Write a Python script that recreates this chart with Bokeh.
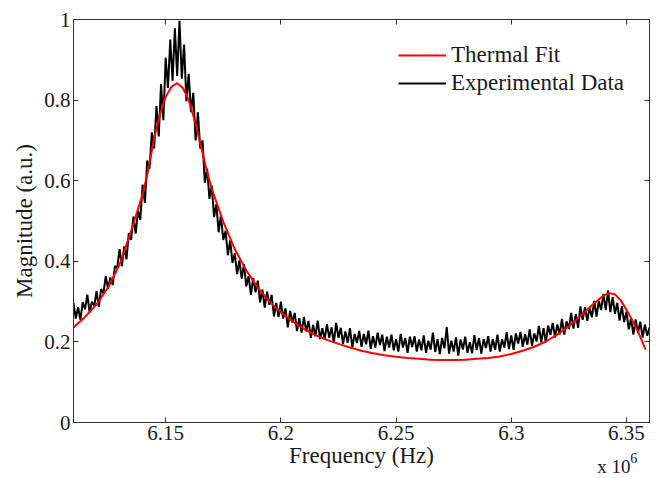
import numpy as np
from bokeh.plotting import figure
from bokeh.layouts import column
from bokeh.models import Range1d, LinearAxis, FixedTicker, Legend, LegendItem, Label
from bokeh.embed import file_html
from bokeh.resources import INLINE

# ---------------- data ----------------
# Experimental sweep: 251 samples, 6.110 MHz .. 6.360 MHz (1 kHz step)
freq_start_hz = 6.110e6
freq_stop_hz = 6.360e6
exp_magnitude = [
    0.296, 0.258, 0.286, 0.255, 0.298, 0.281, 0.317, 0.273, 0.300, 0.289,
    0.326, 0.287, 0.331, 0.321, 0.363, 0.332, 0.360, 0.341, 0.388, 0.385,
    0.430, 0.388, 0.437, 0.405, 0.470, 0.453, 0.511, 0.469, 0.526, 0.503,
    0.590, 0.545, 0.650, 0.630, 0.720, 0.680, 0.785, 0.710, 0.840, 0.750,
    0.905, 0.830, 0.950, 0.848, 0.978, 0.860, 0.997, 0.853, 0.938, 0.797,
    0.865, 0.770, 0.818, 0.700, 0.770, 0.680, 0.700, 0.595, 0.630, 0.555,
    0.588, 0.510, 0.542, 0.472, 0.513, 0.453, 0.476, 0.415, 0.452, 0.396,
    0.420, 0.368, 0.402, 0.357, 0.393, 0.338, 0.363, 0.317, 0.359, 0.323,
    0.352, 0.298, 0.330, 0.285, 0.325, 0.292, 0.317, 0.263, 0.297, 0.262,
    0.300, 0.258, 0.283, 0.236, 0.277, 0.248, 0.272, 0.227, 0.259, 0.223,
    0.262, 0.226, 0.252, 0.210, 0.242, 0.214, 0.253, 0.207, 0.234, 0.207,
    0.244, 0.210, 0.236, 0.198, 0.247, 0.210, 0.235, 0.195, 0.226, 0.198,
    0.234, 0.186, 0.220, 0.197, 0.227, 0.188, 0.220, 0.194, 0.228, 0.183,
    0.214, 0.186, 0.223, 0.192, 0.218, 0.177, 0.213, 0.186, 0.218, 0.179,
    0.207, 0.176, 0.220, 0.186, 0.210, 0.173, 0.213, 0.187, 0.214, 0.176,
    0.206, 0.179, 0.216, 0.173, 0.203, 0.181, 0.223, 0.175, 0.207, 0.170,
    0.210, 0.184, 0.237, 0.171, 0.203, 0.176, 0.211, 0.166, 0.206, 0.181,
    0.213, 0.173, 0.199, 0.172, 0.217, 0.180, 0.210, 0.171, 0.207, 0.185,
    0.214, 0.176, 0.207, 0.180, 0.218, 0.176, 0.207, 0.186, 0.224, 0.182,
    0.216, 0.180, 0.221, 0.196, 0.225, 0.188, 0.219, 0.193, 0.231, 0.190,
    0.221, 0.201, 0.240, 0.199, 0.234, 0.199, 0.241, 0.217, 0.247, 0.211,
    0.243, 0.218, 0.257, 0.218, 0.251, 0.232, 0.272, 0.233, 0.269, 0.235,
    0.288, 0.255, 0.286, 0.252, 0.285, 0.261, 0.302, 0.263, 0.302, 0.279,
    0.319, 0.279, 0.328, 0.274, 0.311, 0.270, 0.297, 0.253, 0.289, 0.249,
    0.275, 0.231, 0.258, 0.218, 0.256, 0.222, 0.250, 0.211, 0.243, 0.215,
    0.236,
]

# Thermal fit (smooth curve), frequency in MHz
fit_freq_mhz = [
    6.110, 6.115, 6.120, 6.125, 6.130, 6.135, 6.140, 6.1425, 6.145, 6.1475,
    6.150, 6.1525, 6.155, 6.1575, 6.160, 6.1625, 6.165, 6.1675, 6.170, 6.175,
    6.180, 6.185, 6.190, 6.195, 6.200, 6.205, 6.210, 6.215, 6.220, 6.225,
    6.230, 6.235, 6.240, 6.245, 6.250, 6.255, 6.260, 6.265, 6.270, 6.275,
    6.280, 6.285, 6.290, 6.295, 6.300, 6.305, 6.310, 6.315, 6.320, 6.325,
    6.330, 6.335, 6.340, 6.3425, 6.345, 6.3475, 6.350, 6.3525, 6.355, 6.3583,
]
fit_magnitude = [
    0.236, 0.262, 0.293, 0.335, 0.392, 0.475, 0.566, 0.628, 0.705, 0.765,
    0.808, 0.833, 0.842, 0.830, 0.800, 0.752, 0.693, 0.633, 0.580, 0.498,
    0.430, 0.377, 0.334, 0.300, 0.273, 0.251, 0.232, 0.217, 0.205, 0.195,
    0.186, 0.178, 0.172, 0.167, 0.163, 0.160, 0.158, 0.156, 0.155, 0.155,
    0.156, 0.158, 0.160, 0.164, 0.170, 0.178, 0.188, 0.201, 0.218, 0.239,
    0.264, 0.291, 0.315, 0.321, 0.318, 0.303, 0.280, 0.254, 0.226, 0.181,
]

x_tick_values = [6150000, 6200000, 6250000, 6300000, 6350000]
x_tick_labels = ["6.15", "6.2", "6.25", "6.3", "6.35"]
y_tick_values = [0, 0.2, 0.4, 0.6, 0.8, 1]
y_tick_labels = ["0", "0.2", "0.4", "0.6", "0.8", "1"]

series_names = ["Thermal Fit", "Experimental Data"]
x_title = "Frequency (Hz)"
y_title = "Magnitude (a.u.)"
x_multiplier = ("x 10", "6")

# ---------------- plot ----------------
exp_freq = np.linspace(freq_start_hz, freq_stop_hz, len(exp_magnitude))
fit_freq = np.array(fit_freq_mhz) * 1e6

FONT = "Liberation Serif"
AX = "#333333"
TXT = "#1a1a1a"

p = figure(width=662, height=478, output_backend="svg", toolbar_location=None,
           x_range=Range1d(6.11e6, 6.36e6), y_range=Range1d(0, 1),
           min_border_left=73, min_border_right=13, min_border_top=19,
           min_border_bottom=56, background_fill_color="white",
           border_fill_color="white")
p.xgrid.visible = False
p.ygrid.visible = False
p.outline_line_color = AX
p.outline_line_width = 1

r_exp = p.line(exp_freq, exp_magnitude, line_color="black", line_width=2)
r_fit = p.line(fit_freq, fit_magnitude, line_color="#ff0000", line_width=2)


def style_axis(ax, ticks, labels, show_labels=True):
    ax.ticker = FixedTicker(ticks=ticks)
    if show_labels:
        ax.major_label_overrides = dict(zip(ticks, labels))
    else:
        ax.major_label_overrides = {t: "" for t in ticks}
        ax.major_label_standoff = 0
    ax.major_tick_in = 5
    ax.major_tick_out = 0
    ax.minor_tick_line_color = None
    ax.axis_line_color = AX
    ax.major_tick_line_color = AX
    ax.major_label_text_font = FONT
    ax.major_label_text_color = TXT
    ax.axis_label_text_font = FONT
    ax.axis_label_text_font_style = "normal"
    ax.axis_label_text_color = TXT


xa = p.xaxis[0]
style_axis(xa, x_tick_values, x_tick_labels)
xa.major_label_text_font_size = "21px"
xa.major_label_standoff = 3
xa.axis_label = x_title
xa.axis_label_text_font_size = "23px"
xa.axis_label_standoff = 0

ya = p.yaxis[0]
style_axis(ya, y_tick_values, y_tick_labels)
ya.major_label_text_font_size = "21px"
ya.major_label_standoff = 3
ya.axis_label = y_title
ya.axis_label_text_font_size = "23px"
ya.axis_label_standoff = 4

top_ax = LinearAxis()
style_axis(top_ax, x_tick_values, x_tick_labels, show_labels=False)
p.add_layout(top_ax, "above")
right_ax = LinearAxis()
style_axis(right_ax, y_tick_values, y_tick_labels, show_labels=False)
p.add_layout(right_ax, "right")

legend = Legend(items=[LegendItem(label=series_names[0], renderers=[r_fit]),
                       LegendItem(label=series_names[1], renderers=[r_exp])],
                location=(325, 325), border_line_color=None,
                background_fill_alpha=0, padding=0, margin=0, spacing=0,
                glyph_width=48, glyph_height=28, label_height=28,
                label_standoff=5, label_text_font=FONT,
                label_text_font_size="23px", label_text_color=TXT)
p.add_layout(legend, "center")

# transparent strip laid over the bottom of the plot: the "x 10^6" multiplier
strip = figure(width=662, height=40, output_backend="svg", toolbar_location=None,
               x_range=Range1d(0, 662), y_range=Range1d(0, 40),
               x_axis_location=None, y_axis_location=None,
               min_border=0, background_fill_alpha=0, border_fill_alpha=0,
               margin=(-40, 0, 0, 0))
strip.outline_line_color = None
strip.xgrid.visible = False
strip.ygrid.visible = False
strip.add_layout(Label(x=602, y=12, text=x_multiplier[0], text_font=FONT,
                       text_font_size="19px", text_baseline="alphabetic",
                       text_color=TXT))
strip.add_layout(Label(x=640, y=21, text=x_multiplier[1], text_font=FONT,
                       text_font_size="14px", text_baseline="alphabetic",
                       text_color=TXT))

layout = column(p, strip, spacing=0)
open("out.html", "w").write(file_html(layout, INLINE))
